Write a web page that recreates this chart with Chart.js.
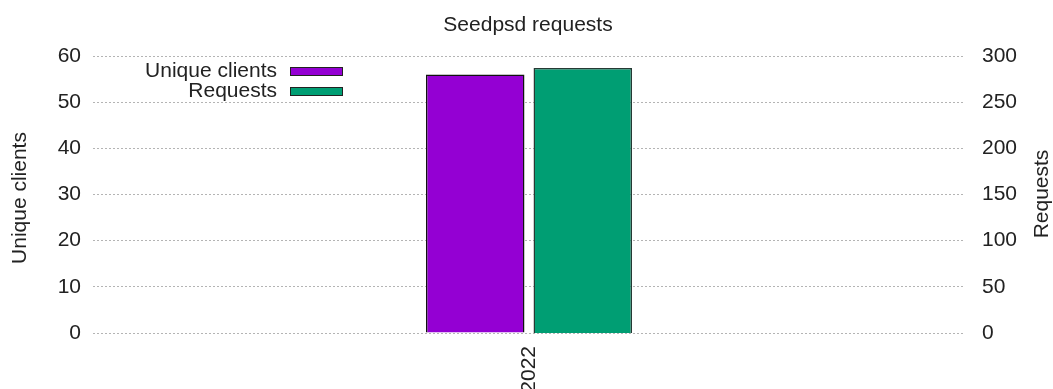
<!DOCTYPE html>
<html>
<head>
<meta charset="utf-8">
<script src="https://cdn.jsdelivr.net/npm/chart.js@4"></script>
<style>
  html, body { margin: 0; padding: 0; background: #fff; }
  #wrap { width: 1053px; height: 389px; position: relative; }
</style>
</head>
<body>
<div id="wrap"><canvas id="chart"></canvas></div>
<script>
const years = ['2022'];
const uniqueClients = [56];
const requests = [287];
const clientTicks = [0, 10, 20, 30, 40, 50, 60];
const requestTicks = [0, 50, 100, 150, 200, 250, 300];

const FONT = '"Liberation Sans", Arial, sans-serif';
const SIZE = 21;
const TEXT = '#222';

// title, axis titles and the top-left key are painted by hand (gnuplot style)
const decorations = {
    id: 'decorations',
    afterDraw(chart) {
        const ctx = chart.ctx;
        const area = chart.chartArea;
        ctx.save();
        ctx.fillStyle = TEXT;
        ctx.font = SIZE + 'px ' + FONT;

        ctx.textAlign = 'center';
        ctx.textBaseline = 'alphabetic';
        ctx.fillText('Seedpsd requests', (area.left + area.right) / 2 - 1, 31);

        ctx.textBaseline = 'middle';
        ctx.save();
        ctx.translate(20, 198);
        ctx.rotate(-Math.PI / 2);
        ctx.fillText('Unique clients', 0, 0);
        ctx.restore();

        ctx.save();
        ctx.translate(1042, 194);
        ctx.rotate(-Math.PI / 2);
        ctx.fillText('Requests', 0, 0);
        ctx.restore();

        ctx.textAlign = 'right';
        chart.data.datasets.forEach((ds, i) => {
            const y = 71 + i * 20;
            ctx.fillStyle = TEXT;
            ctx.fillText(ds.label, 277, y);
            ctx.fillStyle = ds.backgroundColor;
            ctx.fillRect(290, y - 4, 53, 8);
            ctx.strokeStyle = '#222';
            ctx.lineWidth = 1;
            ctx.strokeRect(290.5, y - 3.5, 52, 8);
        });
        ctx.restore();
    },
};

new Chart(document.getElementById('chart'), {
    type: 'bar',
    data: {
        labels: years,
        datasets: [
            {
                label: 'Unique clients',
                data: uniqueClients,
                yAxisID: 'y',
                backgroundColor: '#9400d3',
                borderColor: '#111',
                borderWidth: 1.5,
                categoryPercentage: 0.2466,
                barPercentage: 0.916,
            },
            {
                label: 'Requests',
                data: requests,
                yAxisID: 'y1',
                backgroundColor: '#009e73',
                borderColor: '#263a34',
                borderWidth: 1.5,
                categoryPercentage: 0.2466,
                barPercentage: 0.916,
            },
        ],
    },
    options: {
        responsive: true,
        maintainAspectRatio: false,
        animation: false,
        layout: {
            padding: { top: 56, left: 0, right: 0, bottom: 0 },
        },
        scales: {
            x: {
                grid: { display: false, drawTicks: false },
                border: { display: false },
                ticks: {
                    color: TEXT,
                    font: { family: FONT, size: SIZE },
                    minRotation: 90,
                    maxRotation: 90,
                    padding: 13,
                },
                afterFit(scale) { scale.height = 56; },
            },
            y: {
                position: 'left',
                min: 0,
                max: 60,
                afterBuildTicks(scale) { scale.ticks = clientTicks.map(v => ({ value: v })); },
                grid: {
                    color: '#b4b4b4',
                    lineWidth: 1,
                    drawTicks: false,
                },
                border: { display: false, dash: [2, 2] },
                ticks: {
                    color: TEXT,
                    font: { family: FONT, size: SIZE },
                    padding: 12,
                },
                afterFit(scale) { scale.width = 93; },
            },
            y1: {
                position: 'right',
                min: 0,
                max: 300,
                afterBuildTicks(scale) { scale.ticks = requestTicks.map(v => ({ value: v })); },
                grid: { display: false, drawTicks: false },
                border: { display: false },
                ticks: {
                    color: TEXT,
                    font: { family: FONT, size: SIZE },
                    padding: 17,
                },
                afterFit(scale) { scale.width = 88; },
            },
        },
        plugins: {
            legend: { display: false },
            title: { display: false },
            tooltip: { enabled: false },
        },
    },
    plugins: [decorations],
});
</script>
</body>
</html>
